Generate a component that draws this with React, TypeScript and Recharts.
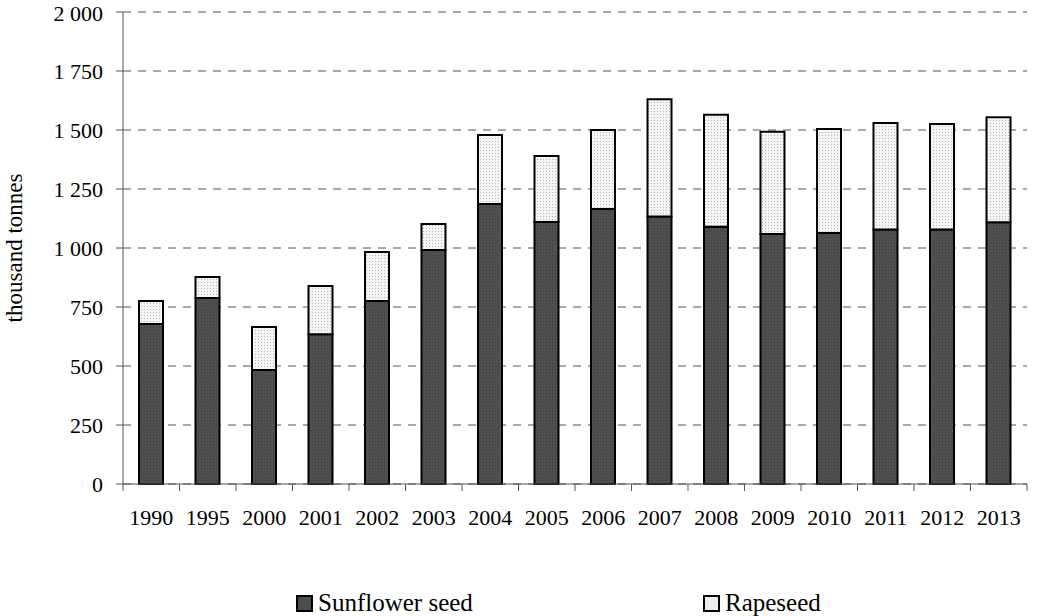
import React from "react";
import {
  BarChart,
  Bar,
  XAxis,
  YAxis,
  CartesianGrid,
  Label,
} from "recharts";

const years = [
  "1990", "1995", "2000", "2001", "2002", "2003", "2004", "2005",
  "2006", "2007", "2008", "2009", "2010", "2011", "2012", "2013",
];
const sunflower = [
  678, 788, 483, 635, 775, 992, 1186, 1110,
  1165, 1133, 1090, 1059, 1064, 1078, 1078, 1109,
];
const rapeseed = [
  97, 89, 182, 204, 208, 110, 293, 280,
  335, 497, 475, 434, 440, 452, 447, 445,
];
const yTicks = [0, 250, 500, 750, 1000, 1250, 1500, 1750, 2000];
const seriesNames = ["Sunflower seed", "Rapeseed"];

const data = years.map((year, i) => ({
  year,
  sunflower: sunflower[i],
  rapeseed: rapeseed[i],
}));

const font = "'Liberation Serif', 'Times New Roman', serif";

const fmt = (v: number) =>
  v >= 1000 ? `${Math.floor(v / 1000)} ${String(v % 1000).padStart(3, "0")}` : String(v);

// year label plus a tick mark on the category boundary (like the excel axis)
function YearTick(props: any) {
  const { x, y, payload, index } = props;
  const half = payload.offset || 0;
  const last = index === years.length - 1;
  return (
    <g>
      <line x1={x - half} y1={y} x2={x - half} y2={y + 7} stroke="#555" />
      {last && <line x1={x + half} y1={y} x2={x + half} y2={y + 7} stroke="#555" />}
      <text
        x={x}
        y={y + 25}
        dy="0.71em"
        textAnchor="middle"
        fill="#000"
        fontSize={22}
        fontFamily={font}
      >
        {payload.value}
      </text>
    </g>
  );
}

function LegendItem({ name, dark, left }: { name: string; dark: boolean; left: number }) {
  return (
    <div
      style={{
        position: "absolute",
        top: 590,
        left,
        height: 26,
        display: "flex",
        alignItems: "center",
        fontFamily: font,
        fontSize: 25,
        color: "#000",
        whiteSpace: "nowrap",
      }}
    >
      <span
        style={{
          display: "inline-block",
          width: 13,
          height: 13,
          border: "2px solid #000",
          background: dark ? "#4d4d4d" : "#eeeeee",
          marginRight: 5,
        }}
      />
      {name}
    </div>
  );
}

export default function App() {
  return (
    <div style={{ position: "absolute", left: 0, top: 0, width: 1043, height: 616, background: "#fff" }}>
      <BarChart
        width={1043}
        height={616}
        data={data}
        margin={{ top: 12, right: 16, left: 0, bottom: 82 }}
        style={{ fontFamily: font }}
      >
        <defs>
          <pattern id="sunPat" width="3" height="3" patternUnits="userSpaceOnUse">
            <rect width="3" height="3" fill="#4f4f4f" />
            <rect width="1" height="1" fill="#3e3e3e" />
          </pattern>
          <pattern id="rapePat" width="3" height="3" patternUnits="userSpaceOnUse">
            <rect width="3" height="3" fill="#f4f4f4" />
            <rect width="1" height="1" fill="#b8b8b8" />
          </pattern>
        </defs>
        <CartesianGrid
          vertical={false}
          stroke="#555"
          strokeDasharray="8 7"
        />
        <XAxis
          dataKey="year"
          axisLine={{ stroke: "#555" }}
          tickLine={false}
          tickSize={0}
          tickMargin={0}
          height={50}
          interval={0}
          tick={<YearTick />}
        />
        <YAxis
          width={123}
          domain={[0, 2000]}
          ticks={yTicks}
          tickFormatter={fmt}
          axisLine={{ stroke: "#555" }}
          tickLine={{ stroke: "#555" }}
          tickSize={7}
          tickMargin={13}
          tick={{ fill: "#000", fontSize: 22, fontFamily: font }}
        >
          <Label
            value="thousand tonnes"
            angle={-90}
            position="insideLeft"
            offset={14}
            style={{ fill: "#000", fontSize: 23, fontFamily: font, textAnchor: "middle" }}
          />
        </YAxis>
        <Bar
          dataKey="sunflower"
          name={seriesNames[0]}
          stackId="a"
          fill="url(#sunPat)"
          stroke="#000"
          strokeWidth={2}
          barSize={24}
          isAnimationActive={false}
        />
        <Bar
          dataKey="rapeseed"
          name={seriesNames[1]}
          stackId="a"
          fill="url(#rapePat)"
          stroke="#000"
          strokeWidth={2}
          barSize={24}
          isAnimationActive={false}
        />
      </BarChart>
      <LegendItem name={seriesNames[0]} dark left={296} />
      <LegendItem name={seriesNames[1]} dark={false} left={703} />
    </div>
  );
}
